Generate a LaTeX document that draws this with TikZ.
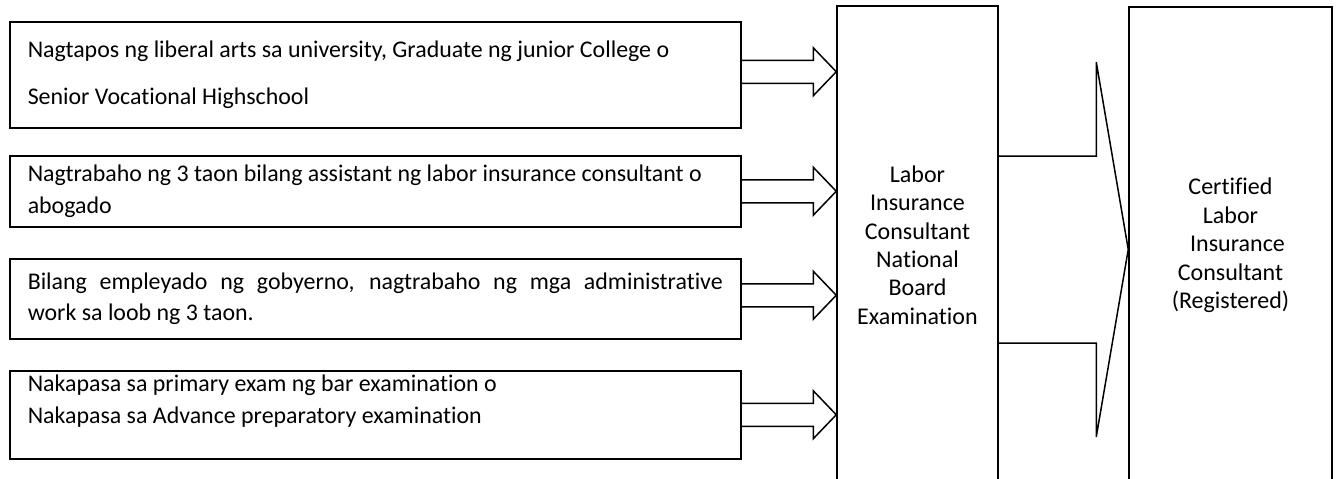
\documentclass[tikz,border=0pt]{standalone}
\usepackage{fontspec}
\setmainfont{Carlito}[Ligatures=NoCommon]
\usetikzlibrary{calc}

\tikzset{
  reqbox/.style={shape=rectangle,draw=black,line width=1.5pt,anchor=north west,align=flush left,text width=695pt,inner xsep=18pt,inner ysep=0pt,font=\fontsize{23.9}{31.5}\selectfont},
  stagebox/.style={shape=rectangle,draw=black,line width=1.5pt,align=center,inner sep=0pt,font=\fontsize{24}{28.4}\selectfont},
  fat/.style n args={3}{-,draw=black,line width=1.5pt,line join=miter,
    to path={let \p1=(\tikztostart),\p2=(\tikztotarget) in
      (\x1,\y1+#1) -- (\x2-#3,\y1+#1) -- (\x2-#3,\y1+#2) -- (\x2,\y1)
      -- (\x2-#3,\y1-#2) -- (\x2-#3,\y1-#1) -- (\x1,\y1-#1)}}
}

\begin{document}
\begin{tikzpicture}[x=1pt,y=-1pt]
\useasboundingbox (0,0) rectangle (1339,479);

\node[reqbox,minimum height=106pt] (r1) at (9,21) {Nagtapos ng liberal arts sa university, Graduate ng junior College o\\[15.5pt]Senior Vocational Highschool};
\node[reqbox,minimum height=71pt] (r2) at (9,155) {Nagtrabaho ng 3 taon bilang assistant ng labor insurance consultant o\\abogado};
\node[reqbox,align=justify,minimum height=80pt] (r3) at (9,258) {Bilang empleyado ng gobyerno, nagtrabaho ng mga administrative\linebreak work sa loob ng 3 taon.};
\node[reqbox,minimum height=88pt] (r4) at (9,370) {Nakapasa sa primary exam ng bar examination o\\Nakapasa sa Advance preparatory examination\\\mbox{}};

\node[stagebox,minimum width=161pt,minimum height=478pt] (exam) at (917.5,245) {Labor\\Insurance\\Consultant\\National\\Board\\Examination};
\node[stagebox,minimum width=203pt,minimum height=477pt] (cert) at (1230.5,245.5) {Certified\\Labor\\\hspace*{14pt}Insurance\\Consultant\\(Registered)};

\draw[fat={11.5pt}{24pt}{23pt}] ([yshift=3pt]r1.east) to (exam.west);
\draw[fat={11.5pt}{24pt}{23pt}] (r2.east) to (exam.west);
\draw[fat={11.5pt}{24pt}{23pt}] ([yshift=3.5pt]r3.east) to (exam.west);
\draw[fat={11.5pt}{24pt}{23pt}] (r4.east) to (exam.west);

\draw[fat={93.5pt}{187.5pt}{32pt}] ([yshift=-4.5pt]exam.east) to (cert.west);
\end{tikzpicture}
\end{document}
